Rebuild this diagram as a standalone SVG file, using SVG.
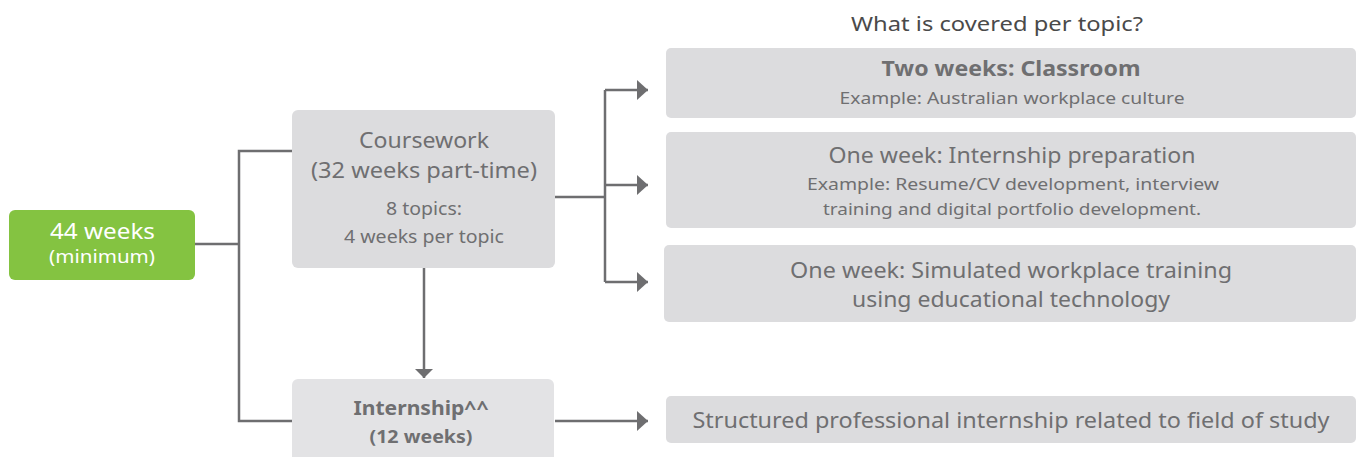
<svg xmlns="http://www.w3.org/2000/svg" width="1357" height="457" viewBox="0 0 1357 457">
<style>
.box{fill:#dcdcde}
.box2{fill:#e3e3e5}
.grn{fill:#84c341}
.t{font-family:"Noto Sans","DejaVu Sans",sans-serif;fill:#6f6f71;text-anchor:middle}
.w{fill:#ffffff}
.b{font-weight:bold}
.ttl{fill:#4a4a4a}
.ln{fill:none;stroke:#6e6e70;stroke-width:2.5}
</style>
<defs>
<marker id="ar" markerUnits="userSpaceOnUse" markerWidth="12" markerHeight="20" refX="11" refY="10" orient="auto" viewBox="0 0 12 20">
<path d="M0,0 L11,10 L0,20 z" fill="#6e6e70"/>
</marker>
<marker id="ard" markerUnits="userSpaceOnUse" markerWidth="10" markerHeight="18" refX="9" refY="9" orient="auto" viewBox="0 0 10 18">
<path d="M0,0 L9,9 L0,18 z" fill="#6e6e70"/>
</marker>
</defs>
<rect width="1357" height="457" fill="#ffffff"/>

<g id="connectors">
<path class="ln" d="M195,244 H239"/>
<path class="ln" d="M292,151 H239 V421 H292"/>
<path class="ln" d="M555,197 H605"/>
<path class="ln" d="M605,90 V282"/>
<path class="ln" d="M605,90 H648" marker-end="url(#ar)"/>
<path class="ln" d="M605,185 H648" marker-end="url(#ar)"/>
<path class="ln" d="M605,282 H648" marker-end="url(#ar)"/>
<path class="ln" d="M424,268 V378" marker-end="url(#ard)"/>
<path class="ln" d="M555,421 H648" marker-end="url(#ar)"/>
</g>

<g id="title">
<text class="t ttl" x="997" y="31" font-size="20" textLength="292" lengthAdjust="spacingAndGlyphs">What is covered per topic?</text>
</g>

<g id="total">
<rect class="grn" x="9" y="210" width="186" height="70" rx="6"/>
<text class="t w" x="102.5" y="239" font-size="22" textLength="105" lengthAdjust="spacingAndGlyphs">44 weeks</text>
<text class="t w" x="102" y="263" font-size="18" textLength="106" lengthAdjust="spacingAndGlyphs">(minimum)</text>
</g>

<g id="coursework">
<rect class="box" x="292" y="110" width="263" height="158" rx="6"/>
<text class="t" x="424" y="148" font-size="22" textLength="130" lengthAdjust="spacingAndGlyphs">Coursework</text>
<text class="t" x="424" y="178" font-size="22" textLength="226" lengthAdjust="spacingAndGlyphs">(32 weeks part-time)</text>
<text class="t" x="424" y="215" font-size="17.5" textLength="76" lengthAdjust="spacingAndGlyphs">8 topics:</text>
<text class="t" x="424" y="243" font-size="17.5" textLength="160" lengthAdjust="spacingAndGlyphs">4 weeks per topic</text>
</g>

<g id="internship">
<rect class="box2" x="292" y="379" width="262" height="90" rx="6"/>
<text class="t b" x="421" y="415" font-size="20" textLength="135" lengthAdjust="spacingAndGlyphs">Internship^^</text>
<text class="t b" x="421" y="443" font-size="18" textLength="103" lengthAdjust="spacingAndGlyphs">(12 weeks)</text>
</g>

<g id="topic-classroom">
<rect class="box" x="666" y="48" width="690" height="70" rx="5"/>
<text class="t b" x="1011" y="76" font-size="22" textLength="259" lengthAdjust="spacingAndGlyphs">Two weeks: Classroom</text>
<text class="t" x="1012" y="104" font-size="17" textLength="345" lengthAdjust="spacingAndGlyphs">Example: Australian workplace culture</text>
</g>

<g id="topic-prep">
<rect class="box" x="666" y="132" width="690" height="96" rx="5"/>
<text class="t" x="1012" y="163" font-size="22" textLength="367" lengthAdjust="spacingAndGlyphs">One week: Internship preparation</text>
<text class="t" x="1013" y="190" font-size="17" textLength="412" lengthAdjust="spacingAndGlyphs">Example: Resume/CV development, interview</text>
<text class="t" x="1012" y="215" font-size="17" textLength="378" lengthAdjust="spacingAndGlyphs">training and digital portfolio development.</text>
</g>

<g id="topic-sim">
<rect class="box" x="664" y="245" width="692" height="77" rx="5"/>
<text class="t" x="1011" y="278" font-size="22" textLength="442" lengthAdjust="spacingAndGlyphs">One week: Simulated workplace training</text>
<text class="t" x="1011" y="307" font-size="22" textLength="318" lengthAdjust="spacingAndGlyphs">using educational technology</text>
</g>

<g id="topic-internship">
<rect class="box" x="666" y="396" width="690" height="47" rx="5"/>
<text class="t" x="1011" y="428" font-size="22" textLength="637" lengthAdjust="spacingAndGlyphs">Structured professional internship related to field of study</text>
</g>
</svg>
